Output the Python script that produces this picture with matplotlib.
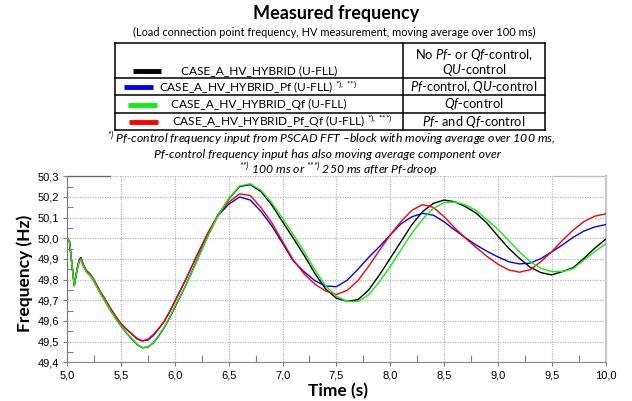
import matplotlib
matplotlib.use("Agg")
import matplotlib.pyplot as plt
from matplotlib.lines import Line2D
from matplotlib.ticker import MultipleLocator, FuncFormatter

# ---------------- data ----------------
time_s = [5.00, 5.02, 5.04, 5.065, 5.09, 5.11, 5.125, 5.15, 5.18, 5.21, 5.24, 5.27,
          5.30, 5.35, 5.40, 5.45, 5.50, 5.55, 5.60, 5.65, 5.70, 5.75, 5.80, 5.85,
          5.90, 5.95, 6.00, 6.1, 6.2, 6.3, 6.4, 6.5, 6.6, 6.7, 6.8, 6.9, 7.0,
          7.1, 7.2, 7.3, 7.4, 7.5, 7.6, 7.7, 7.8, 7.9, 8.0, 8.1, 8.2, 8.3, 8.4,
          8.5, 8.6, 8.7, 8.8, 8.9, 9.0, 9.1, 9.2, 9.3, 9.4, 9.5, 9.6, 9.7, 9.8,
          9.9, 10.0]

freq_black = [50.000, 49.985, 49.885, 49.770, 49.845, 49.888, 49.898, 49.866, 49.835, 49.822, 49.800, 49.770,
              49.740, 49.697, 49.652, 49.612, 49.575, 49.542, 49.513, 49.485, 49.470, 49.474, 49.494, 49.528,
              49.568, 49.615, 49.667, 49.772, 49.888, 50.005, 50.112, 50.190, 50.250, 50.260, 50.226, 50.161, 50.080,
              50.000, 49.918, 49.830, 49.755, 49.710, 49.695, 49.703, 49.750, 49.823, 49.903, 49.984, 50.065, 50.129, 50.169,
              50.185, 50.177, 50.153, 50.121, 50.073, 50.011, 49.952, 49.903, 49.860, 49.834, 49.823, 49.839, 49.858, 49.903,
              49.952, 49.995]

freq_green = [50.000, 49.985, 49.885, 49.770, 49.845, 49.888, 49.898, 49.866, 49.835, 49.822, 49.800, 49.770,
              49.740, 49.697, 49.652, 49.612, 49.576, 49.543, 49.515, 49.486, 49.471, 49.475, 49.495, 49.530,
              49.570, 49.618, 49.672, 49.772, 49.885, 50.005, 50.110, 50.192, 50.253, 50.264, 50.232, 50.172, 50.097,
              50.017, 49.935, 49.847, 49.770, 49.720, 49.694, 49.695, 49.726, 49.790, 49.863, 49.944, 50.024, 50.092, 50.145,
              50.173, 50.176, 50.161, 50.134, 50.089, 50.044, 49.989, 49.935, 49.887, 49.855, 49.839, 49.839, 49.853, 49.895,
              49.935, 49.973]

freq_red = [50.000, 49.985, 49.887, 49.772, 49.850, 49.895, 49.905, 49.872, 49.842, 49.828, 49.806, 49.777,
            49.748, 49.706, 49.662, 49.622, 49.585, 49.560, 49.538, 49.515, 49.505, 49.512, 49.535, 49.565,
            49.597, 49.643, 49.694, 49.800, 49.912, 50.020, 50.115, 50.175, 50.215, 50.207, 50.148, 50.075, 49.985,
            49.895, 49.828, 49.778, 49.745, 49.728, 49.748, 49.795, 49.865, 49.942, 50.016, 50.081, 50.135, 50.163, 50.150,
            50.105, 50.050, 50.000, 49.955, 49.912, 49.875, 49.847, 49.836, 49.848, 49.887, 49.935, 49.990, 50.040, 50.081,
            50.107, 50.118]

freq_blue = [50.000, 49.985, 49.887, 49.772, 49.850, 49.896, 49.908, 49.872, 49.842, 49.828, 49.806, 49.777,
             49.748, 49.706, 49.662, 49.622, 49.585, 49.560, 49.536, 49.512, 49.503, 49.508, 49.530, 49.562,
             49.598, 49.645, 49.697, 49.800, 49.912, 50.018, 50.110, 50.165, 50.200, 50.185, 50.130, 50.060, 49.976,
             49.890, 49.838, 49.795, 49.769, 49.766, 49.797, 49.850, 49.908, 49.960, 50.016, 50.070, 50.104, 50.121, 50.112,
             50.080, 50.040, 50.002, 49.967, 49.937, 49.910, 49.887, 49.876, 49.880, 49.902, 49.934, 49.968, 50.005, 50.035,
             50.055, 50.066]

series_names = ["CASE_A_HV_HYBRID (U-FLL)",
                "CASE_A_HV_HYBRID_Pf (U-FLL) $^{{*}),\\ {*}{*})}$",
                "CASE_A_HV_HYBRID_Qf (U-FLL)",
                "CASE_A_HV_HYBRID_Pf_Qf (U-FLL) $^{{*}),\\ {*}{*}{*})}$"]
series_desc = [["No $\\mathit{Pf}$- or $\\mathit{Qf}$-control,", "$\\mathit{QU}$-control"],
               ["$\\mathit{Pf}$-control, $\\mathit{QU}$-control"],
               ["$\\mathit{Qf}$-control"],
               ["$\\mathit{Pf}$- and $\\mathit{Qf}$-control"]]
series_colors = ["#000000", "#0000ff", "#11ee11", "#ff0000"]

x_ticks = [5.0, 5.5, 6.0, 6.5, 7.0, 7.5, 8.0, 8.5, 9.0, 9.5, 10.0]
y_ticks = [49.4, 49.5, 49.6, 49.7, 49.8, 49.9, 50.0, 50.1, 50.2, 50.3]

# ---------------- figure ----------------
plt.rcParams['mathtext.fontset'] = 'custom'
plt.rcParams['mathtext.rm'] = 'Lato'
plt.rcParams['mathtext.it'] = 'Lato:italic'
plt.rcParams['mathtext.bf'] = 'Lato:bold'
plt.rcParams['mathtext.default'] = 'regular'

W, H = 632, 401
fig = plt.figure(figsize=(W / 100, H / 100), dpi=100)
fig.patch.set_facecolor("white")


def fx(x):
    return x / W


def fy(y):
    return 1 - y / H


TXT = dict(family="Lato", color="black")

fig.text(fx(336), fy(14), "Measured frequency", fontsize=13, fontweight="bold",
         ha="center", va="center", **TXT)
fig.text(fx(334), fy(32), "(Load connection point frequency, HV measurement, moving average over 100 ms)",
         fontsize=7.9, ha="center", va="center", **TXT)

# table
tl, tr, tt, tb = 115, 545, 43, 130
cdiv = 403
row_lines = [43, 77.5, 95, 112.5, 130]
lw_tab = 1.1
for yv in row_lines:
    fig.add_artist(Line2D([fx(tl), fx(tr)], [fy(yv), fy(yv)], color="black", lw=lw_tab))
for xv in [tl, cdiv, tr]:
    fig.add_artist(Line2D([fx(xv), fx(xv)], [fy(tt), fy(tb)], color="black", lw=lw_tab))

row_y = [71, 87, 104.5, 121.5]
sw_x = [(133, 161), (124, 153), (128, 157), (129, 158)]
txt_x = [181, 159, 171, 172]
for i in range(4):
    fig.add_artist(Line2D([fx(sw_x[i][0]), fx(sw_x[i][1])], [fy(row_y[i]), fy(row_y[i])],
                          color=series_colors[i], lw=3.5, solid_capstyle="butt"))
    fig.text(fx(txt_x[i]), fy(row_y[i]), series_names[i], fontsize=8.6, ha="left", va="center", **TXT)

desc_center = (cdiv + tr) / 2
fig.text(fx(desc_center), fy(55), series_desc[0][0], fontsize=9.3, ha="center", va="center", **TXT)
fig.text(fx(desc_center), fy(70), series_desc[0][1], fontsize=9.3, ha="center", va="center", **TXT)
for i in range(1, 4):
    fig.text(fx(desc_center), fy(row_y[i]), series_desc[i][0], fontsize=9.3, ha="center", va="center", **TXT)

fig.text(fx(331), fy(138.5), "$^{{*})}$ Pf-control frequency input from PSCAD FFT \u2013block with moving average over 100 ms,",
         fontsize=8.8, style="italic", ha="center", va="center", **TXT)
fig.text(fx(328), fy(155), "Pf-control frequency input has also moving average component over",
         fontsize=8.8, style="italic", ha="center", va="center", **TXT)
fig.text(fx(338), fy(170), "$^{{*}{*})}$ 100 ms or $^{{*}{*}{*})}$ 250 ms after Pf-droop",
         fontsize=8.8, style="italic", ha="center", va="center", **TXT)

# axes
ax_l, ax_r, ax_t, ax_b = 67.3, 605.5, 176.3, 362.3
ax = fig.add_axes([fx(ax_l), fy(ax_b), (ax_r - ax_l) / W, (ax_b - ax_t) / H])
ax.set_facecolor("white")

ax.plot(time_s, freq_black, color=series_colors[0], lw=1.0, zorder=3)
ax.plot(time_s, freq_blue, color=series_colors[1], lw=1.0, zorder=3)
ax.plot(time_s, freq_red, color=series_colors[3], lw=1.0, zorder=3)
ax.plot(time_s, freq_green, color=series_colors[2], lw=1.0, zorder=3)

ax.set_xlim(5.0, 10.0)
ax.set_ylim(49.4, 50.3)
ax.set_xticks(x_ticks)
ax.set_yticks(y_ticks)
ax.xaxis.set_minor_locator(MultipleLocator(0.25))
ax.yaxis.set_minor_locator(MultipleLocator(0.05))
fmt = FuncFormatter(lambda v, p: f"{v:.1f}".replace(".", ","))
ax.xaxis.set_major_formatter(fmt)
ax.yaxis.set_major_formatter(fmt)

ax.grid(True, which="major", color="#b8b8b8", linestyle=(0, (1, 1)), lw=0.9, zorder=1)
ax.tick_params(axis="both", which="major", direction="out", length=3, width=0.8, color="#808080",
               labelsize=8, pad=3)
ax.tick_params(axis="x", which="minor", direction="in", length=5, width=0.8, color="#808080")
ax.tick_params(axis="y", which="minor", direction="in", length=4, width=0.8, color="#808080")
for lab in ax.get_xticklabels() + ax.get_yticklabels():
    lab.set_family("Liberation Sans")

ax.spines["left"].set_color("#777777")
ax.spines["bottom"].set_color("#888888")
ax.spines["right"].set_color("#c8c8c8")
ax.spines["right"].set_linewidth(1.6)
ax.spines["top"].set_visible(False)
ax.add_artist(Line2D([0, 0.08], [1, 1], transform=ax.transAxes, color="#666666", lw=0.9, clip_on=False))
ax.add_artist(Line2D([0.905, 1], [1, 1], transform=ax.transAxes, color="#bbbbbb", lw=0.9, clip_on=False))

fig.text(fx(338), fy(391.5), "Time (s)", fontsize=12.5, fontweight="bold", ha="center", va="center", **TXT)
fig.text(fx(25), fy(273), "Frequency (Hz)", fontsize=12.5, fontweight="bold", rotation=90,
         ha="center", va="center", **TXT)

fig.savefig("out.png", dpi=100, facecolor="white")
